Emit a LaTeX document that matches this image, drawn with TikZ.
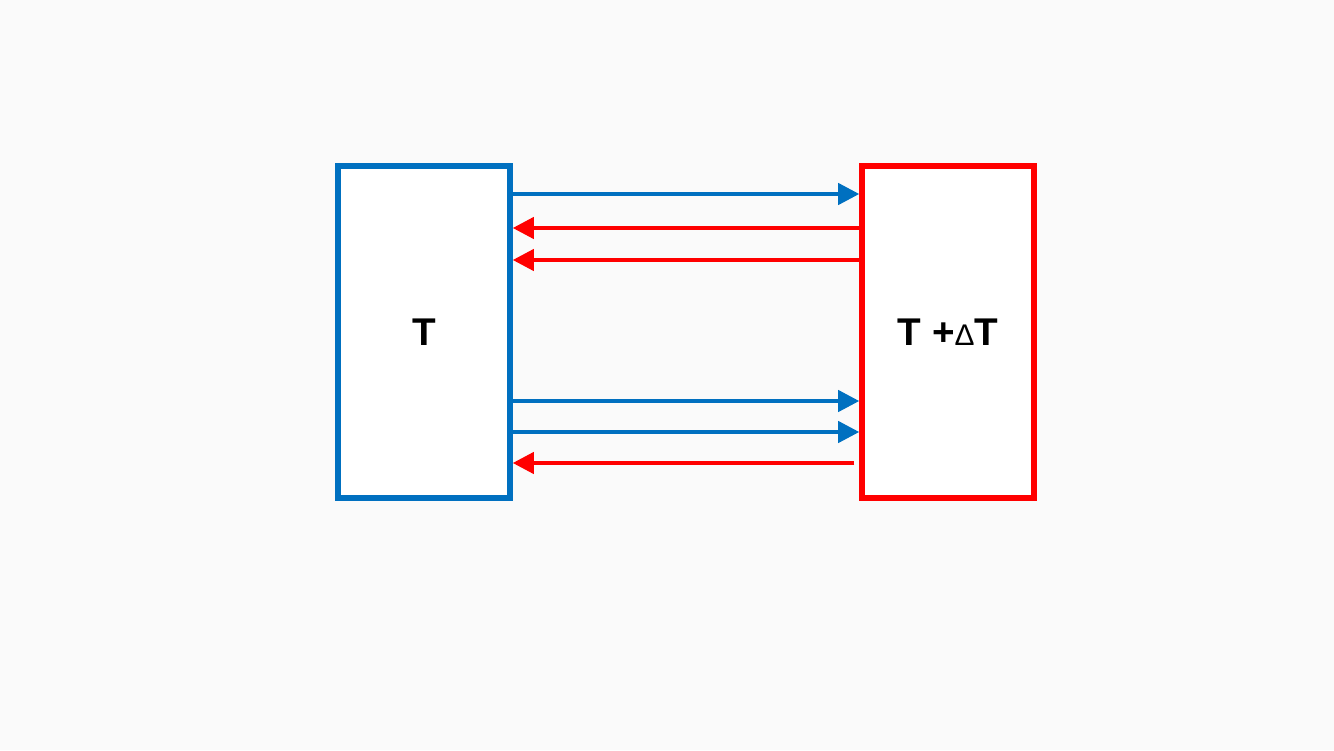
\documentclass[tikz,border=0pt]{standalone}
\usepackage{fontspec}
\setmainfont{Liberation Sans}
\usetikzlibrary{arrows.meta}
\definecolor{tblue}{HTML}{0070C0}
\definecolor{tred}{HTML}{FF0000}
\definecolor{bgray}{HTML}{FAFAFA}
\tikzset{
  box/.style={draw, line width=3.1pt, fill=white, minimum width=172\pxu, minimum height=332\pxu, inner sep=0pt, font=\fontsize{22}{26}\selectfont\bfseries},
  flow/.style={line width=2.3pt, -{Triangle[length=12pt,width=12pt]}}
}
\newlength{\pxu}
\setlength{\pxu}{0.02cm}
\begin{document}
\begin{tikzpicture}[x=0.02cm, y=-0.02cm]
             \fill[bgray] (0,0) rectangle (1334,750);
             \useasboundingbox (0,0) rectangle (1334,750);

             \node[box, draw=tblue] (cold) at (424,332) {\raisebox{-5\pxu}{T}};
             \node[box, draw=tred] (hot) at (948,332) {\raisebox{-5\pxu}{T +{\fontsize{17}{20}\selectfont\mdseries Δ}T}};

             % upper group
             \draw[flow, tblue] (cold.east |- 0,194) -- (hot.west |- 0,194);
             \draw[flow, tred] (hot.west |- 0,228) -- (cold.east |- 0,228);
             \draw[flow, tred] (hot.west |- 0,260) -- (cold.east |- 0,260);

             % lower group
             \draw[flow, tblue] (cold.east |- 0,401) -- (hot.west |- 0,401);
             \draw[flow, tblue] (cold.east |- 0,432) -- (hot.west |- 0,432);
             \draw[flow, tred] ([xshift=-5\pxu]hot.west |- 0,463) -- (cold.east |- 0,463);
\end{tikzpicture}
\end{document}
